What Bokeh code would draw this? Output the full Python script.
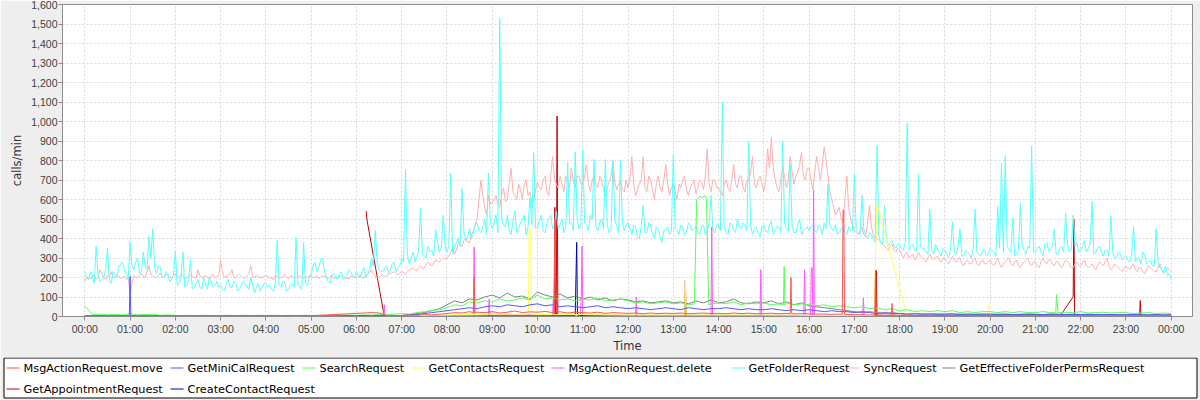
from bokeh.plotting import figure
from bokeh.layouts import column
from bokeh.models import Range1d, FixedTicker, NumeralTickFormatter, ColumnDataSource
from bokeh.core.properties import value
from bokeh.embed import file_html
from bokeh.resources import INLINE

# ---------------- data ----------------
HOUR_LABELS = ["00:00", "01:00", "02:00", "03:00", "04:00", "05:00", "06:00", "07:00",
               "08:00", "09:00", "10:00", "11:00", "12:00", "13:00", "14:00", "15:00",
               "16:00", "17:00", "18:00", "19:00", "20:00", "21:00", "22:00", "23:00", "00:00"]
Y_TICKS = [0, 100, 200, 300, 400, 500, 600, 700, 800, 900, 1000, 1100, 1200, 1300, 1400, 1500, 1600]

SERIES_NAMES = ["MsgActionRequest.move", "GetMiniCalRequest", "SearchRequest", "GetContactsRequest",
                "MsgActionRequest.delete", "GetFolderRequest", "SyncRequest",
                "GetEffectiveFolderPermsRequest", "GetAppointmentRequest", "CreateContactRequest"]
SERIES_COLORS = ["#FF5555", "#5555FF", "#55FF55", "#FFFF55", "#FF55FF", "#55FFFF", "#FFAFAF",
                 "#808080", "#C00000", "#0000C0"]

# GetFolderRequest, one value every 5 minutes (00:00 .. 24:00)
GET_FOLDER = [
    230, 190, 210, 360, 180, 200, 350, 170, 210, 250, 280, 220,
    380, 240, 300, 230, 260, 410, 450, 220, 250, 200, 220, 190,
    335, 170, 330, 160, 290, 150, 190, 140, 170, 200, 150, 180,
    160, 130, 190, 150, 170, 140, 180, 150, 200, 120, 170, 150,
    170, 160, 130, 390, 150, 180, 140, 170, 405, 150, 380, 160,
    220, 280, 250, 300, 200, 170, 220, 190, 230, 200, 240, 210,
    230, 200, 250, 220, 300, 440, 240, 230, 260, 240, 280, 250,
    300, 755, 270, 330, 300, 555, 310, 360, 340, 445, 330, 520,
    330, 735, 350, 400, 655, 390, 450, 420, 480, 430, 500, 735,
    450, 520, 1530, 470, 520, 420, 540, 450, 500, 420, 610, 840,
    460, 520, 430, 500, 450, 540, 470, 430, 790, 480, 845, 450,
    855, 470, 520, 805, 440, 500, 805, 430, 795, 470, 800, 440,
    480, 420, 460, 400, 570, 430, 470, 400, 450, 380, 440, 420,
    830, 440, 470, 420, 480, 440, 460, 420, 470, 440, 620, 430,
    470, 1100, 430, 480, 440, 500, 450, 470, 900, 420, 460, 410,
    470, 430, 490, 440, 460, 900, 450, 780, 430, 470, 420, 450,
    440, 470, 430, 460, 480, 680, 450, 470, 430, 460, 420, 440,
    730, 430, 620, 410, 430, 400, 880, 380, 570, 360, 390, 350,
    370, 340, 990, 360, 340, 730, 350, 330, 550, 320, 350, 310,
    340, 300, 485, 320, 450, 310, 330, 300, 550, 320, 340, 310,
    350, 330, 565, 785, 822, 340, 505, 320, 580, 340, 360, 875,
    330, 360, 310, 380, 340, 450, 320, 360, 530, 330, 520, 380,
    340, 390, 350, 590, 330, 360, 310, 340, 515, 300, 330, 290,
    310, 280, 460, 300, 270, 310, 280, 260, 450, 250, 230, 210,
    190]
# GetFolderRequest, readings half-way between the 5-minute values above (00:02:30, 00:07:30, ...)
GET_FOLDER_MID = [
    200, 230, 170, 220, 190, 240, 180, 230, 200, 270, 240, 190,
    260, 280, 220, 330, 240, 300, 250, 260, 200, 230, 180, 210,
    160, 200, 150, 180, 140, 170, 150, 200, 140, 180, 160, 150,
    140, 170, 150, 180, 130, 160, 170, 140, 160, 150, 130, 170,
    150, 140, 170, 160, 180, 130, 160, 150, 170, 140, 170, 200,
    260, 230, 290, 240, 180, 210, 200, 220, 190, 210, 230, 200,
    210, 230, 200, 240, 260, 280, 230, 250, 220, 270, 230, 260,
    280, 320, 300, 280, 340, 320, 300, 330, 310, 380, 350, 360,
    360, 320, 380, 360, 430, 410, 400, 470, 440, 460, 420, 480,
    480, 430, 500, 460, 440, 490, 430, 480, 520, 460, 470, 450,
    490, 440, 480, 520, 470, 450, 500, 460, 480, 440, 500, 470,
    480, 440, 500, 460, 480, 450, 470, 440, 490, 430, 480, 470,
    450, 470, 410, 460, 430, 480, 420, 460, 410, 440, 460, 430,
    450, 420, 460, 430, 470, 450, 430, 460, 420, 480, 450, 470,
    440, 460, 420, 470, 430, 460, 480, 440, 470, 450, 430, 460,
    440, 470, 420, 460, 430, 480, 440, 460, 430, 500, 440, 460,
    460, 440, 470, 420, 450, 470, 440, 420, 450, 430, 460, 440,
    440, 420, 450, 400, 420, 380, 410, 370, 400, 380, 360, 370,
    350, 380, 340, 370, 330, 360, 350, 320, 340, 370, 330, 350,
    320, 350, 330, 360, 310, 340, 320, 350, 330, 310, 340, 320,
    340, 310, 350, 330, 360, 330, 310, 340, 360, 320, 350, 330,
    350, 330, 370, 340, 360, 320, 350, 330, 370, 340, 360, 330,
    360, 330, 370, 320, 350, 330, 340, 310, 330, 300, 320, 300,
    290, 320, 280, 300, 330, 270, 290, 260, 280, 240, 260, 220]

# SyncRequest, one value every 5 minutes
SYNC = [
    180, 200, 210, 190, 240, 200, 210, 230, 200, 210, 200, 190,
    120, 210, 200, 220, 200, 260, 210, 200, 220, 200, 210, 200,
    220, 200, 210, 195, 215, 200, 240, 200, 210, 195, 215, 205,
    290, 200, 210, 240, 200, 215, 195, 210, 260, 200, 205, 200,
    210, 200, 190, 205, 200, 215, 195, 205, 200, 210, 195, 200,
    205, 200, 195, 210, 200, 205, 195, 200, 210, 200, 195, 205,
    200, 210, 195, 215, 240, 205, 200, 215, 210, 220, 230, 215,
    230, 215, 240, 250, 235, 260, 250, 280, 260, 290, 280, 300,
    300, 330, 320, 380, 360, 400, 380, 440, 500, 700, 560, 620,
    580, 620, 560, 660, 600, 760, 620, 680, 600, 700, 640, 600,
    690, 650, 720, 620, 820, 680, 720, 640, 700, 760, 660, 720,
    680, 780, 640, 720, 660, 700, 620, 690, 800, 650, 700, 640,
    660, 820, 620, 680, 820, 640, 700, 600, 720, 640, 780, 620,
    680, 600, 660, 720, 620, 680, 630, 700, 650, 860, 640, 700,
    660, 620, 700, 640, 780, 660, 720, 640, 700, 820, 660, 720,
    640, 860, 920, 700, 640, 760, 660, 820, 680, 740, 840, 700,
    760, 650, 820, 700, 870, 720, 600, 520, 560, 480, 720, 500,
    440, 420, 460, 410, 570, 420, 400, 380, 360, 340, 370, 330,
    340, 300, 330, 310, 290, 330, 300, 280, 320, 290, 310, 280,
    300, 270, 310, 280, 300, 260, 290, 270, 300, 260, 290, 270,
    290, 260, 300, 250, 280, 300, 260, 290, 250, 280, 300, 260,
    280, 250, 300, 270, 290, 260, 280, 250, 290, 270, 250, 280,
    260, 290, 250, 270, 240, 280, 260, 300, 240, 270, 250, 230,
    260, 240, 270, 230, 250, 220, 260, 240, 230, 270, 220, 250,
    230]
# SyncRequest, readings half-way between the 5-minute values above
SYNC_MID = [
    200, 190, 210, 200, 220, 190, 205, 200, 215, 195, 205, 200,
    170, 200, 210, 205, 230, 215, 200, 210, 205, 215, 200, 210,
    205, 215, 200, 210, 205, 195, 210, 205, 200, 210, 200, 210,
    230, 205, 220, 200, 210, 205, 200, 220, 205, 210, 200, 205,
    205, 195, 210, 200, 205, 200, 210, 195, 205, 200, 205, 210,
    200, 210, 200, 205, 195, 210, 200, 205, 200, 195, 210, 200,
    205, 200, 210, 225, 215, 200, 210, 205, 215, 225, 220, 225,
    225, 230, 245, 240, 250, 245, 270, 265, 275, 285, 290, 295,
    310, 350, 340, 370, 390, 380, 420, 470, 600, 620, 520, 580,
    600, 580, 620, 590, 680, 640, 600, 650, 680, 620, 580, 650,
    660, 700, 640, 720, 700, 660, 680, 720, 660, 700, 720, 680,
    720, 680, 700, 680, 720, 650, 660, 720, 690, 680, 650, 700,
    700, 680, 650, 700, 660, 720, 650, 680, 660, 700, 680, 660,
    640, 680, 700, 650, 660, 700, 660, 690, 720, 680, 700, 660,
    640, 680, 660, 700, 680, 720, 660, 700, 740, 680, 700, 680,
    700, 760, 760, 660, 700, 720, 700, 740, 720, 780, 720, 760,
    700, 740, 760, 780, 800, 640, 560, 540, 500, 600, 560, 470,
    430, 440, 420, 480, 460, 400, 390, 370, 350, 360, 340, 350,
    320, 320, 300, 320, 300, 310, 290, 300, 300, 300, 290, 300,
    280, 290, 290, 300, 270, 280, 270, 290, 270, 280, 270, 280,
    270, 280, 270, 270, 290, 270, 280, 260, 270, 290, 270, 280,
    260, 280, 280, 290, 270, 280, 260, 270, 280, 250, 270, 260,
    275, 260, 260, 250, 260, 270, 280, 260, 250, 260, 240, 250,
    250, 260, 240, 250, 230, 240, 250, 230, 250, 240, 230, 240]

# one value every 10 minutes (00:00 .. 24:00)
MSG_MOVE = [
    2, 3, 2, 2, 3, 2,   2, 3, 2, 2, 3, 2,   2, 2, 3, 2, 2, 3,   2, 3, 2, 2, 3, 2,
    2, 3, 2, 2, 3, 2,   4, 6, 8, 10, 12, 14,   16, 18, 20, 18, 6, 4,   5, 8, 6, 10, 8, 12,
    15, 20, 18, 25, 22, 20,   25, 18, 22, 28, 20, 24,   22, 26, 20, 24, 18, 22,
    20, 18, 22, 16, 20, 18,   16, 18, 14, 18, 15, 17,   15, 18, 14, 16, 18, 15,
    16, 14, 18, 15, 17, 14,   15, 17, 14, 16, 13, 15,   14, 12, 13, 11, 12, 10,
    10, 9, 8, 9, 7, 8,   6, 7, 5, 6, 5, 6,   5, 6, 5, 4, 5, 4,   5, 4, 5, 6, 4, 5,
    4, 5, 4, 5, 4, 5,   4, 5, 4, 3, 4, 5,   4, 3, 4, 3, 4, 3,   3]
MSG_MOVE_EVENTS = [[(515, 20), (516, 200), (517, 20)],
                   [(622, 22), (623, 500), (625, 22)],
                   [(935, 15), (936, 200), (937, 15)],
                   [(1004, 12), (1005, 545), (1006, 545), (1007, 12)],
                   [(1047, 8), (1048, 236), (1049, 8)],
                   [(1069, 8), (1070, 67), (1071, 8)]]

GET_MINICAL = [
    4, 3, 4, 3, 4, 3,   4, 3, 4, 3, 4, 3,   3, 4, 3, 4, 3, 4,   3, 4, 3, 4, 3, 4,
    3, 4, 3, 4, 3, 4,   4, 3, 4, 3, 4, 5,   4, 5, 4, 5, 4, 5,   5, 8, 10, 15, 20, 25,
    30, 35, 40, 45, 40, 50,   55, 50, 60, 55, 50, 60,   65, 55, 60, 50, 55, 50,
    45, 50, 55, 45, 50, 45,   40, 45, 40, 35, 40, 45,   40, 35, 45, 40, 35, 40,
    40, 45, 40, 35, 40, 35,   35, 40, 35, 30, 35, 30,   35, 30, 25, 30, 25, 25,
    20, 25, 20, 15, 20, 15,   15, 12, 14, 12, 13, 12,   12, 13, 11, 12, 11, 12,
    12, 11, 12, 10, 11, 12,   11, 10, 12, 11, 10, 11,   10, 11, 10, 9, 10, 9,
    9, 10, 9, 8, 9, 8,   8]
GET_MINICAL_EVENTS = [[(59, 4), (60, 205), (61, 4)]]

SEARCH = [
    55, 10, 12, 8, 10, 8,   15, 8, 10, 12, 6, 8,   6, 5, 6, 5, 6, 5,   5, 6, 5, 6, 5, 6,
    5, 6, 5, 6, 5, 6,   5, 6, 5, 6, 8, 6,   6, 8, 7, 10, 8, 12,   15, 12, 20, 25, 30, 35,
    45, 60, 55, 75, 70, 80,   75, 90, 80, 85, 95, 85,   110, 90, 95, 85, 90, 80,
    90, 85, 95, 80, 85, 90,   80, 70, 75, 65, 70, 75,   65, 70, 60, 75, 70, 65,
    70, 65, 75, 60, 70, 65,   70, 60, 65, 70, 60, 65,   60, 55, 60, 50, 55, 50,
    45, 50, 40, 45, 35, 40,   30, 35, 25, 30, 25, 30,   25, 30, 20, 25, 20, 25,
    25, 20, 25, 20, 25, 20,   20, 25, 20, 18, 22, 20,   25, 18, 20, 22, 18, 20,
    20, 15, 18, 20, 15, 18,   15]
SEARCH_EVENTS = [[(808, 65), (811, 600), (815, 615), (818, 610), (822, 620), (824, 600), (827, 60)],
                 [(926, 60), (927, 257), (928, 60)],
                 [(1287, 20), (1288, 113), (1290, 20)]]

PERMS = [
    2, 2, 2, 2, 2, 2,   2, 2, 2, 2, 2, 2,   2, 2, 2, 2, 2, 2,   2, 2, 2, 2, 2, 2,
    2, 2, 2, 2, 2, 2,   2, 2, 2, 2, 2, 2,   2, 2, 3, 3, 4, 4,   5, 8, 15, 20, 30, 40,
    60, 80, 70, 90, 85, 100,   110, 95, 120, 100, 105, 90,   125, 110, 100, 115, 95, 105,
    90, 100, 85, 95, 80, 90,   85, 75, 80, 70, 75, 80,   70, 75, 65, 80, 70, 85,
    70, 75, 90, 70, 65, 75,   70, 80, 65, 75, 60, 70,   55, 50, 45, 40, 35, 30,
    25, 20, 25, 20, 15, 20,   15, 12, 14, 12, 13, 12,   12, 13, 11, 12, 11, 12,
    12, 11, 12, 10, 11, 12,   11, 10, 12, 11, 10, 11,   10, 11, 10, 9, 10, 9,
    9, 10, 9, 8, 9, 8,   8]

# sparse series: (minute of day, calls/min)
GET_CONTACTS = [(0, 0), (420, 2), (480, 8), (540, 12), (588, 12), (589, 450), (591, 450), (592, 10),
                (660, 10), (720, 8), (795, 8), (796, 185), (797, 8), (900, 8), (1000, 5), (1046, 5),
                (1050, 580), (1090, 0), (1195, 0), (1198, 60), (1201, 0), (1440, 0)]
MSG_DELETE = [(0, 2), (120, 2), (240, 2), (360, 2), (396, 2), (397, 60), (398, 2), (420, 2), (480, 5),
              (515, 5), (516, 356), (517, 5), (535, 8), (536, 90), (537, 8), (600, 8), (620, 8),
              (621, 90), (622, 8), (657, 8), (658, 100), (659, 360), (660, 8), (730, 6), (731, 100),
              (732, 6), (790, 6), (830, 6), (831, 459), (832, 6), (895, 6), (896, 240), (897, 6),
              (953, 6), (954, 240), (955, 6), (962, 6), (963, 250), (964, 250), (965, 6), (966, 648),
              (967, 6), (1031, 4), (1032, 95), (1033, 4), (1100, 3), (1200, 3), (1320, 3), (1440, 3)]
CREATE_CONTACT = [(0, 2), (300, 2), (480, 3), (600, 4), (650, 5), (651, 200), (652, 380), (653, 5),
                  (700, 4), (900, 3), (1100, 2), (1440, 2)]
GET_APPOINTMENT = [(373, 540), (374, 495), (397, 0), (480, 0), (560, 0), (622, 0), (623, 560), (624, 0),
                   (625, 0), (626, 1028), (627, 0), (795, 0), (796, 185), (797, 0), (1048, 0),
                   (1049, 236), (1050, 0), (1294, 10), (1309, 95), (1310, 100), (1311, 498),
                   (1312, 0), (1398, 0), (1399, 82), (1400, 0), (1440, 0)]


# ---------------- helpers ----------------
def regular(values, step, offset=0.0):
    return [(offset + i * step, v) for i, v in enumerate(values)]


def merge(base, groups):
    pts = list(base)
    for g in groups:
        lo, hi = g[0][0], g[-1][0]
        pts = [pt for pt in pts if not (lo <= pt[0] <= hi)]
        pts.extend(g)
    pts.sort(key=lambda pt: pt[0])
    return pts


def to_source(pts):
    return ColumnDataSource(dict(x=[t / 60.0 for t, _ in pts], y=[v for _, v in pts]))


series_points = [
    merge(regular(MSG_MOVE, 10), MSG_MOVE_EVENTS),
    merge(regular(GET_MINICAL, 10), GET_MINICAL_EVENTS),
    merge(regular(SEARCH, 10), SEARCH_EVENTS),
    GET_CONTACTS,
    MSG_DELETE,
    sorted(regular(GET_FOLDER, 5) + regular(GET_FOLDER_MID, 5, 2.5)),
    sorted(regular(SYNC, 5) + regular(SYNC_MID, 5, 2.5)),
    regular(PERMS, 10),
    GET_APPOINTMENT,
    CREATE_CONTACT,
]

# ---------------- main chart ----------------
FONT = "DejaVu Sans"
TICK_FONT = "Liberation Sans"
W = 1200
p = figure(width=W, height=357, output_backend="svg", toolbar_location=None,
           x_range=Range1d(-0.493, 24.47), y_range=Range1d(0, 1600),
           min_border_left=62, min_border_right=8, min_border_top=4, min_border_bottom=41)
p.frame_align = False
p.background_fill_color = "white"
p.border_fill_color = "#EEEEEE"
p.outline_line_color = "#8C8C8C"

for i in reversed(range(len(SERIES_NAMES))):
    p.line("x", "y", source=to_source(series_points[i]), line_color=SERIES_COLORS[i], line_width=1)

p.xaxis.ticker = FixedTicker(ticks=list(range(len(HOUR_LABELS))))
p.xaxis.major_label_overrides = {i: lab for i, lab in enumerate(HOUR_LABELS)}
p.yaxis.ticker = FixedTicker(ticks=Y_TICKS)
p.yaxis.formatter = NumeralTickFormatter(format="0,0")
p.xaxis.axis_label = "Time"
p.yaxis.axis_label = "calls/min"
for ax in (p.xaxis, p.yaxis):
    ax.axis_line_color = "#8C8C8C"
    ax.major_tick_line_color = "#8C8C8C"
    ax.major_tick_in = 0
    ax.major_tick_out = 4
    ax.minor_tick_line_color = None
    ax.major_label_text_font = TICK_FONT
    ax.major_label_text_font_size = "10.5px"
    ax.major_label_text_color = "#404040"
    ax.axis_label_text_font = FONT
    ax.axis_label_text_font_size = "11.5px"
    ax.axis_label_text_font_style = "normal"
    ax.axis_label_text_color = "#333333"
p.xaxis.major_label_standoff = 2
p.yaxis.major_label_standoff = 1
p.xaxis.axis_label_standoff = 1
p.yaxis.axis_label_standoff = 4

for g in (p.xgrid, p.ygrid):
    g.grid_line_color = "#D8D8D8"
    g.grid_line_dash = "2 2"
    g.grid_line_width = 1

# ---------------- legend panel (drawn as its own small canvas) ----------------
LH = 43
leg = figure(width=W, height=LH, output_backend="svg", toolbar_location=None,
             x_range=Range1d(0, W), y_range=Range1d(LH, 0),
             x_axis_type=None, y_axis_type=None, min_border=0)
leg.frame_align = False
leg.grid.visible = False
leg.outline_line_color = None
leg.background_fill_color = "#EEEEEE"
leg.border_fill_color = "#EEEEEE"
leg.quad(left=[3.5], right=[1196.5], top=[0.5], bottom=[40.5],
         fill_color="white", line_color="black", line_width=1)

COL_X = [6, 170, 302, 411, 551, 731, 846, 942]   # line-sample start of each legend column
ROW_Y = [10, 31]
lx0, lx1, tx, ly, lt, lc = [], [], [], [], [], []
for k, (name, col) in enumerate(zip(SERIES_NAMES, SERIES_COLORS)):
    r, c = divmod(k, 8)
    lx0.append(COL_X[c])
    lx1.append(COL_X[c] + 13)
    tx.append(COL_X[c] + 17)
    ly.append(ROW_Y[r] + 0.5)
    lt.append(name)
    lc.append(col)
leg_src = ColumnDataSource(dict(x0=lx0, x1=lx1, tx=tx, y=ly, text=lt, color=lc))
leg.segment(x0="x0", y0="y", x1="x1", y1="y", line_color="color", line_width=1, source=leg_src)
leg.text(x="tx", y="y", text="text", text_font=value(FONT), text_font_size="11.3px",
         text_baseline="middle", text_align="left", text_color="#000000", source=leg_src)

layout = column(p, leg, spacing=0)
open("out.html", "w").write(file_html(layout, INLINE))
